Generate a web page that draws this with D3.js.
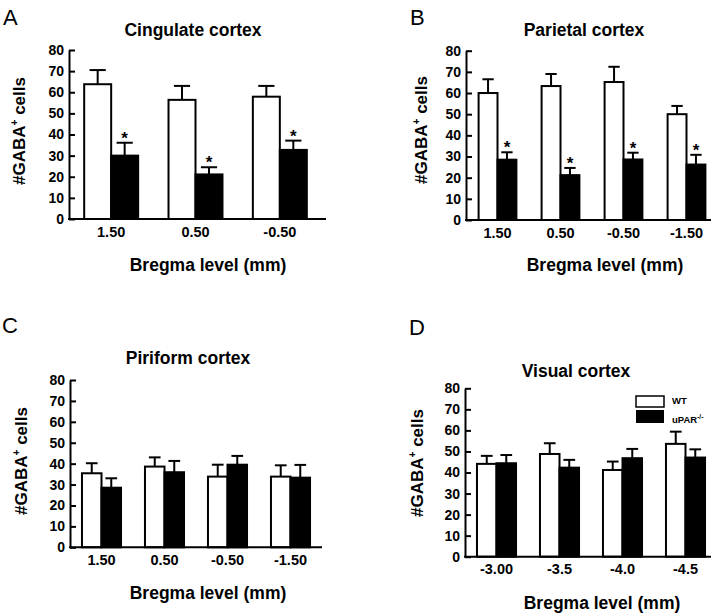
<!DOCTYPE html>
<html><head><meta charset="utf-8">
<script src="https://cdn.jsdelivr.net/npm/d3@7"></script>
<style>
body{margin:0;background:#fff}
svg{display:block}
text{font-family:"Liberation Sans",Arial,Helvetica,sans-serif}
</style>
</head><body>
<svg id="chart" width="720" height="615"></svg>
<script>
// ---- data ----
const yTicks = [0, 10, 20, 30, 40, 50, 60, 70, 80];
const seriesNames = ["WT", "uPAR"];

const categoriesA = ["1.50", "0.50", "-0.50"];
const wtA = [63.8, 56.4, 57.9];
const wtSemA = [6.7, 6.6, 5.1];
const koA = [30.0, 21.1, 32.7];
const koSemA = [6.1, 3.4, 4.4];
const sigA = [true, true, true];

const categoriesB = ["1.50", "0.50", "-0.50", "-1.50"];
const wtB = [60.0, 63.3, 65.2, 50.0];
const wtSemB = [6.5, 5.7, 7.2, 3.9];
const koB = [28.5, 21.2, 28.6, 26.2];
const koSemB = [3.5, 3.4, 3.2, 4.6];
const sigB = [true, true, true, true];

const categoriesC = ["1.50", "0.50", "-0.50", "-1.50"];
const wtC = [35.4, 38.6, 33.8, 33.8];
const wtSemC = [4.8, 4.4, 5.7, 5.4];
const koC = [28.5, 35.9, 39.5, 33.3];
const koSemC = [4.5, 5.4, 4.2, 6.1];
const sigC = [false, false, false, false];

const categoriesD = ["-3.00", "-3.5", "-4.0", "-4.5"];
const wtD = [44.1, 48.8, 41.2, 53.6];
const wtSemD = [3.8, 5.1, 4.0, 5.8];
const koD = [44.4, 42.3, 46.8, 47.1];
const koSemD = [3.9, 3.7, 4.4, 3.9];
const sigD = [false, false, false, false];

// ---- layout ----
const panels = [
  {letter:"A", lx:3, ly:25, title:"Cingulate cortex", tx:193, ty:36,
   x0:69, x1:322, xEnd:326, yTop:50, yBot:219, pad:0.36, xtX:208, xtY:271, ytX:25, ytY:131,
   cats:categoriesA, wt:wtA, wtSem:wtSemA, ko:koA, koSem:koSemA, sig:sigA},
  {letter:"B", lx:410, ly:25, title:"Parietal cortex", tx:584, ty:36,
   x0:466, x1:718, xEnd:711, yTop:50.7, yBot:220, pad:0.40, xtX:605, xtY:271, ytX:427, ytY:130,
   cats:categoriesB, wt:wtB, wtSem:wtSemB, ko:koB, koSem:koSemB, sig:sigB},
  {letter:"C", lx:2, ly:333, title:"Piriform cortex", tx:188, ty:364,
   x0:70, x1:322, xEnd:322, yTop:380, yBot:547.3, pad:0.38, xtX:208, xtY:599, ytX:27, ytY:461,
   cats:categoriesC, wt:wtC, wtSem:wtSemC, ko:koC, koSem:koSemC, sig:sigC},
  {letter:"D", lx:409, ly:335, title:"Visual cortex", tx:576, ty:377,
   x0:465, x1:717, xEnd:711, yTop:388.3, yBot:556.7, pad:0.38, xtX:602, xtY:609, ytX:423, ytY:463,
   cats:categoriesD, wt:wtD, wtSem:wtSemD, ko:koD, koSem:koSemD, sig:sigD, legend:true}
];

const svg = d3.select("#chart");
svg.append("rect").attr("width",720).attr("height",615).attr("fill","#fff");

panels.forEach(p => {
  const g = svg.append("g");
  const x = d3.scaleBand().domain(p.cats).range([p.x0, p.x1])
    .paddingInner(p.pad).paddingOuter(p.pad/2);
  const sub = d3.scaleBand().domain(seriesNames).range([0, x.bandwidth()]);
  const y = d3.scaleLinear().domain([0, 80]).range([p.yBot, p.yTop]);

  // panel letter
  g.append("text").attr("x", p.lx).attr("y", p.ly).attr("font-size", 22)
    .attr("font-weight", "normal").text(p.letter);
  // title
  g.append("text").attr("x", p.tx).attr("y", p.ty).attr("text-anchor","middle")
    .attr("font-size", 17.5).attr("font-weight","bold").text(p.title);

  // bars
  const rows = p.cats.map((c,i) => ({c, i}));
  const series = [
    {name:"WT", vals:p.wt, sem:p.wtSem, fill:"#fff"},
    {name:"uPAR", vals:p.ko, sem:p.koSem, fill:"#000"}
  ];
  series.forEach(s => {
    const bw = sub.bandwidth();
    const cap = bw * 0.6;
    rows.forEach(r => {
      const bx = x(r.c) + sub(s.name);
      const v = s.vals[r.i], e = v + s.sem[r.i];
      // error bar
      g.append("line").attr("x1", bx + bw/2).attr("x2", bx + bw/2)
        .attr("y1", y(v)).attr("y2", y(e)).attr("stroke","#000").attr("stroke-width",2);
      g.append("line").attr("x1", bx + bw/2 - cap/2).attr("x2", bx + bw/2 + cap/2)
        .attr("y1", y(e)).attr("y2", y(e)).attr("stroke","#000").attr("stroke-width",2);
      g.append("rect").attr("x", bx).attr("y", y(v)).attr("width", bw)
        .attr("height", y(0) - y(v)).attr("fill", s.fill)
        .attr("stroke","#000").attr("stroke-width",2);
      if (s.name === "uPAR" && p.sig[r.i]) {
        g.append("text").attr("x", bx + bw/2).attr("y", y(e) + 1)
          .attr("text-anchor","middle").attr("font-size",17).attr("font-weight","bold").text("*");
      }
    });
  });

  // y axis
  const ya = g.append("g").attr("transform", `translate(${p.x0},0)`)
    .call(d3.axisLeft(y).tickValues(yTicks).tickSizeInner(-6).tickSizeOuter(0).tickPadding(5));
  ya.select(".domain").attr("stroke-width", 2);
  ya.selectAll(".tick line").attr("stroke-width", 2);
  ya.selectAll(".tick text").attr("font-size", 14).attr("font-weight","bold")
    .attr("font-family", '"Liberation Sans",Arial,sans-serif').attr("fill","#000");

  // x axis
  const xa = g.append("g").attr("transform", `translate(0,${p.yBot})`)
    .call(d3.axisBottom(x).tickSize(0).tickPadding(7.5));
  xa.select(".domain").remove();
  xa.selectAll(".tick text").attr("font-size", 14.5).attr("font-weight","bold")
    .attr("font-family", '"Liberation Sans",Arial,sans-serif').attr("fill","#000");
  g.append("line").attr("x1", p.x0 - 1).attr("x2", p.xEnd).attr("y1", p.yBot).attr("y2", p.yBot)
    .attr("stroke","#000").attr("stroke-width",2);

  // axis titles
  g.append("text").attr("x", p.xtX).attr("y", p.xtY).attr("text-anchor","middle")
    .attr("font-size", 17.5).attr("font-weight","bold").text("Bregma level (mm)");
  const yt = g.append("text").attr("transform", `translate(${p.ytX},${p.ytY}) rotate(-90)`)
    .attr("text-anchor","middle").attr("font-size", 17).attr("font-weight","bold");
  yt.append("tspan").text("#GABA");
  yt.append("tspan").attr("font-size", 10).attr("dy", -7).text("+");
  yt.append("tspan").attr("dy", 7).text(" cells");

  if (p.legend) {
    const lg = g.append("g");
    lg.append("rect").attr("x", 636).attr("y", 396).attr("width", 28).attr("height", 11)
      .attr("fill","#fff").attr("stroke","#000").attr("stroke-width",1.5);
    lg.append("rect").attr("x", 636).attr("y", 410).attr("width", 28).attr("height", 13)
      .attr("fill","#000");
    lg.append("text").attr("x", 672).attr("y", 404).attr("font-size", 9.5)
      .attr("font-weight","bold").text("WT");
    const t2 = lg.append("text").attr("x", 672).attr("y", 422.5).attr("font-size", 9.5)
      .attr("font-weight","bold");
    t2.append("tspan").text("uPAR");
    t2.append("tspan").attr("font-size", 6.5).attr("dy", -4).text("-/-");
  }
});
</script>
</body></html>
